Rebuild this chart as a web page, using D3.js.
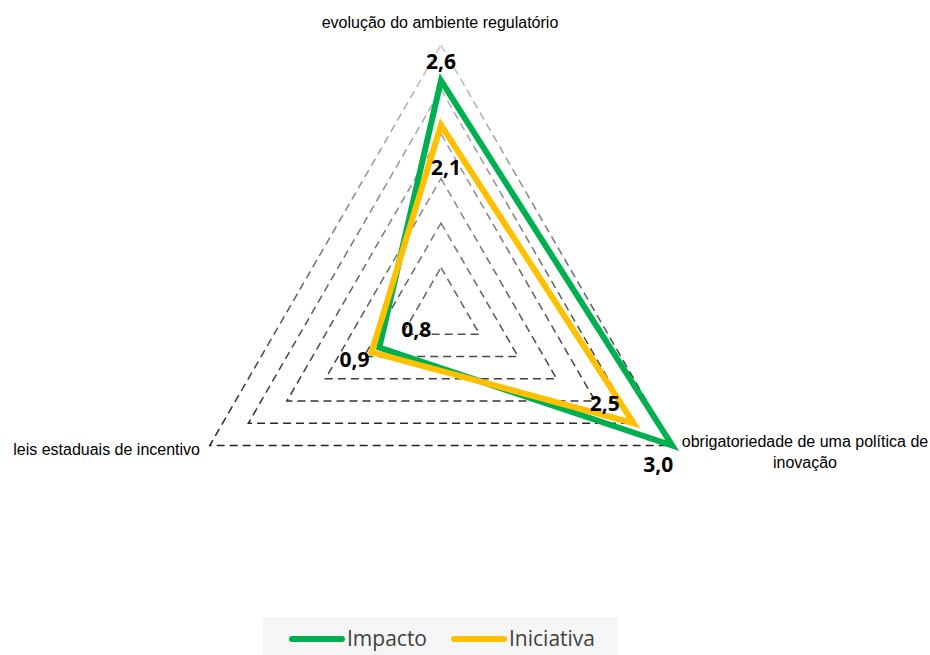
<!DOCTYPE html>
<html>
<head>
<meta charset="utf-8">
<script src="https://cdn.jsdelivr.net/npm/d3@7"></script>
<style>
  body { margin: 0; background: #fff; }
  svg { display: block; }
</style>
</head>
<body>
<div id="chart"></div>
<script>
// data
const axesNames = ["evolução do ambiente regulatório", "obrigatoriedade de uma política de inovação", "leis estaduais de incentivo"];
const seriesNames = ["Impacto", "Iniciativa"];
const impacto = [2.6, 3.0, 0.8];
const iniciativa = [2.1, 2.5, 0.9];
const gridLevels = [0.5, 1, 1.5, 2, 2.5, 3];
const colors = ["#00b050", "#ffc000"];

const W = 930, H = 655;
const cx = 441, cy = 312, radius = 267;

const svg = d3.select("#chart").append("svg")
    .attr("width", W)
    .attr("height", H);

const rScale = d3.scaleLinear().domain([0, 3]).range([0, radius]);
const angle = i => -Math.PI / 2 + i * 2 * Math.PI / 3;
const pt = (v, i) => [cx + rScale(v) * Math.cos(angle(i)), cy + rScale(v) * Math.sin(angle(i))];

// gradient for dashed grid (lighter at the top)
const defs = svg.append("defs");
const grad = defs.append("linearGradient")
    .attr("id", "gridGrad")
    .attr("gradientUnits", "userSpaceOnUse")
    .attr("x1", 0).attr("y1", cy - radius)
    .attr("x2", 0).attr("y2", cy + radius / 2);
grad.append("stop").attr("offset", "0%").attr("stop-color", "#c8c8c8");
grad.append("stop").attr("offset", "100%").attr("stop-color", "#222");

const line = d3.line().curve(d3.curveLinearClosed);

// grid triangles
svg.append("g").selectAll("path")
    .data(gridLevels)
    .join("path")
    .attr("d", lv => line([0, 1, 2].map(i => pt(lv, i))))
    .attr("fill", "none")
    .attr("stroke", "url(#gridGrad)")
    .attr("stroke-width", 1.5)
    .attr("stroke-dasharray", "8,5");

// series
const series = [impacto, iniciativa];
svg.append("g").selectAll("path")
    .data(series)
    .join("path")
    .attr("d", s => line(s.map((v, i) => pt(v, i))))
    .attr("fill", "none")
    .attr("stroke", (d, k) => colors[k])
    .attr("stroke-width", 6)
    .attr("stroke-linejoin", "miter");

// value labels
const fmt = v => d3.format(".1f")(v).replace(".", ",");
const offsets = [
    [[0, -17], [-14, 21], [37, -16]],
    [[5, 44], [-29, -18], [-17, 9]]
];
series.forEach((s, k) => {
    s.forEach((v, i) => {
        const p = pt(v, i);
        svg.append("text")
            .attr("x", p[0] + offsets[k][i][0])
            .attr("y", p[1] + offsets[k][i][1])
            .attr("text-anchor", "middle")
            .attr("dominant-baseline", "middle")
            .style("font-family", "'Open Sans', 'Noto Sans', sans-serif")
            .style("font-size", "21px")
            .style("font-weight", "bold")
            .attr("fill", "#000")
            .text(fmt(v));
    });
});

// axis labels
const labelFont = "'Liberation Sans', Arial, sans-serif";
svg.append("text")
    .attr("x", 440).attr("y", 28)
    .attr("text-anchor", "middle")
    .style("font-family", labelFont).style("font-size", "16px")
    .attr("fill", "#000")
    .text(axesNames[0]);

const rightLabel = svg.append("text")
    .attr("text-anchor", "middle")
    .style("font-family", labelFont).style("font-size", "16px")
    .attr("fill", "#000");
rightLabel.append("tspan").attr("x", 805).attr("y", 447).text("obrigatoriedade de uma política de");
rightLabel.append("tspan").attr("x", 805).attr("y", 468).text("inovação");

svg.append("text")
    .attr("x", 200).attr("y", 455)
    .attr("text-anchor", "end")
    .style("font-family", labelFont).style("font-size", "16px")
    .attr("fill", "#000")
    .text(axesNames[2]);

// legend
svg.append("rect")
    .attr("x", 263).attr("y", 617)
    .attr("width", 355).attr("height", 38)
    .attr("fill", "#f6f6f6");

const legendX = [290, 452];
seriesNames.forEach((name, k) => {
    svg.append("line")
        .attr("x1", legendX[k] + 2).attr("x2", legendX[k] + 52)
        .attr("y1", 639).attr("y2", 639)
        .attr("stroke", colors[k])
        .attr("stroke-width", 6)
        .attr("stroke-linecap", "round");
    svg.append("text")
        .attr("x", legendX[k] + 57).attr("y", 646)
        .style("font-family", "'Open Sans', 'Noto Sans', sans-serif")
        .style("font-size", "21px")
        .attr("fill", "#404040")
        .text(name);
});
</script>
</body>
</html>
